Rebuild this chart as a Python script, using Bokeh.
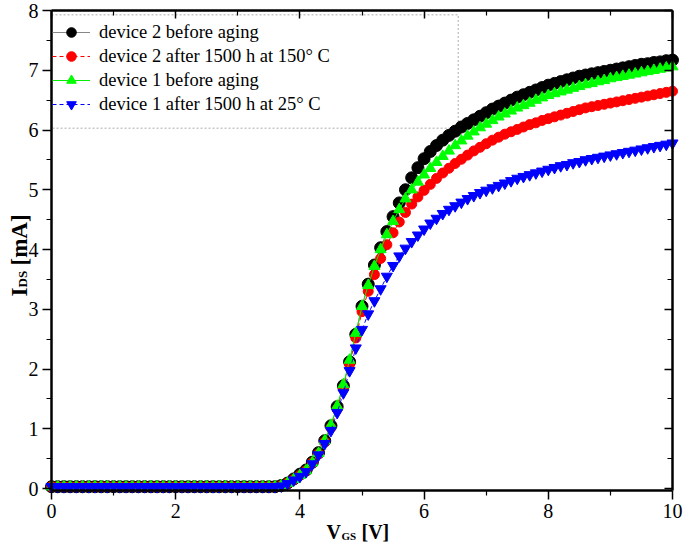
from bokeh.plotting import figure
from bokeh.models import (Range1d, LinearAxis, Legend, LegendItem, Label,
                          BoxAnnotation, FixedTicker)
from bokeh.embed import file_html
from bokeh.resources import INLINE
import math

# ---------------- data ----------------
vgs = [round(0.1 * i, 1) for i in range(101)]

dev2_before = [
    0.03, 0.03, 0.03, 0.03, 0.03, 0.03, 0.03, 0.03, 0.03, 0.03,
    0.03, 0.03, 0.03, 0.03, 0.03, 0.03, 0.03, 0.03, 0.03, 0.03,
    0.03, 0.03, 0.03, 0.03, 0.03, 0.03, 0.03, 0.03, 0.03, 0.03,
    0.03, 0.03, 0.03, 0.03, 0.03, 0.03,
    0.03, 0.05, 0.09, 0.16, 0.24, 0.31, 0.44, 0.60, 0.80, 1.05,
    1.37, 1.72, 2.12, 2.58, 3.05, 3.42, 3.74, 4.03, 4.30, 4.55,
    4.78, 5.00, 5.20, 5.37, 5.52, 5.64, 5.74, 5.83, 5.91, 5.98,
    6.05, 6.11, 6.17, 6.23, 6.29, 6.35, 6.40, 6.45, 6.50, 6.55,
    6.59, 6.63, 6.67, 6.71, 6.75, 6.78, 6.81, 6.84, 6.87, 6.90,
    6.92, 6.94, 6.96, 6.98, 7.00, 7.02, 7.04, 7.06, 7.08, 7.10,
    7.11, 7.13, 7.14, 7.16, 7.17,
]

dev2_after = [
    0.03, 0.03, 0.03, 0.03, 0.03, 0.03, 0.03, 0.03, 0.03, 0.03,
    0.03, 0.03, 0.03, 0.03, 0.03, 0.03, 0.03, 0.03, 0.03, 0.03,
    0.03, 0.03, 0.03, 0.03, 0.03, 0.03, 0.03, 0.03, 0.03, 0.03,
    0.03, 0.03, 0.03, 0.03, 0.03, 0.03,
    0.03, 0.05, 0.09, 0.15, 0.22, 0.30, 0.43, 0.58, 0.78, 1.02,
    1.33, 1.68, 2.08, 2.52, 2.96, 3.30, 3.58, 3.85, 4.08, 4.28,
    4.46, 4.62, 4.76, 4.88, 4.99, 5.09, 5.19, 5.28, 5.36, 5.44,
    5.51, 5.58, 5.65, 5.71, 5.77, 5.83, 5.88, 5.93, 5.97, 6.01,
    6.05, 6.09, 6.12, 6.16, 6.19, 6.22, 6.25, 6.28, 6.31, 6.34,
    6.37, 6.39, 6.41, 6.43, 6.45, 6.47, 6.49, 6.51, 6.53, 6.55,
    6.57, 6.59, 6.61, 6.63, 6.65,
]

dev1_before = [
    0.03, 0.03, 0.03, 0.03, 0.03, 0.03, 0.03, 0.03, 0.03, 0.03,
    0.03, 0.03, 0.03, 0.03, 0.03, 0.03, 0.03, 0.03, 0.03, 0.03,
    0.03, 0.03, 0.03, 0.03, 0.03, 0.03, 0.03, 0.03, 0.03, 0.03,
    0.03, 0.03, 0.03, 0.03, 0.03, 0.03,
    0.03, 0.05, 0.09, 0.15, 0.22, 0.30, 0.43, 0.59, 0.80, 1.06,
    1.38, 1.74, 2.15, 2.60, 3.05, 3.40, 3.72, 4.00, 4.25, 4.47,
    4.67, 4.85, 5.00, 5.13, 5.25, 5.36, 5.46, 5.56, 5.65, 5.74,
    5.82, 5.90, 5.97, 6.04, 6.10, 6.16, 6.22, 6.27, 6.32, 6.37,
    6.41, 6.45, 6.50, 6.54, 6.58, 6.61, 6.64, 6.67, 6.70, 6.73,
    6.76, 6.78, 6.81, 6.83, 6.86, 6.88, 6.90, 6.92, 6.94, 6.96,
    6.98, 7.00, 7.02, 7.04, 7.06,
]

dev1_after = [
    0.03, 0.03, 0.03, 0.03, 0.03, 0.03, 0.03, 0.03, 0.03, 0.03,
    0.03, 0.03, 0.03, 0.03, 0.03, 0.03, 0.03, 0.03, 0.03, 0.03,
    0.03, 0.03, 0.03, 0.03, 0.03, 0.03, 0.03, 0.03, 0.03, 0.03,
    0.03, 0.03, 0.03, 0.03, 0.03, 0.03,
    0.03, 0.04, 0.08, 0.14, 0.20, 0.28, 0.41, 0.56, 0.75, 0.97,
    1.27, 1.60, 1.97, 2.35, 2.66, 2.92, 3.14, 3.34, 3.55, 3.73,
    3.89, 4.02, 4.13, 4.24, 4.34, 4.44, 4.52, 4.60, 4.67, 4.73,
    4.79, 4.85, 4.90, 4.95, 4.99, 5.03, 5.07, 5.11, 5.15, 5.19,
    5.22, 5.25, 5.28, 5.31, 5.34, 5.37, 5.40, 5.42, 5.45, 5.47,
    5.50, 5.52, 5.54, 5.56, 5.58, 5.60, 5.62, 5.64, 5.66, 5.68,
    5.70, 5.72, 5.74, 5.76, 5.78,
]

labels = [
    "device 2 before aging",
    "device 2 after 1500 h at 150\u00b0 C",
    "device 1 before aging",
    "device 1 after 1500 h at 25\u00b0 C",
]
x_ticks = [0, 2, 4, 6, 8, 10]
x_minor = [1, 3, 5, 7, 9]
y_ticks = [0, 1, 2, 3, 4, 5, 6, 7, 8]
y_minor = [0.5, 1.5, 2.5, 3.5, 4.5, 5.5, 6.5, 7.5]

SERIF = "Liberation Serif"

# ---------------- layout (pixels) ----------------
W, H = 685, 544
PL, PR = 51, 672      # pixel x of V=0 and V=10
PY0, PY8 = 488, 10    # pixel y of I=0 and I=8
YBOT = -0.04          # bottom axis position
xs = (PR - PL) / 10.0
ys = (PY0 - PY8) / 8.0
x_start = -PL / xs
x_end = 10 + (W - PR) / xs
y_end = 8 + PY8 / ys
y_start = -(H - PY0) / ys

p = figure(width=W, height=H, output_backend="svg", toolbar_location=None,
           x_range=Range1d(x_start, x_end), y_range=Range1d(y_start, y_end),
           x_axis_location=None, y_axis_location=None,
           min_border=0, min_border_left=0, min_border_right=0,
           min_border_top=0, min_border_bottom=0)
p.grid.visible = False
p.outline_line_color = None
p.background_fill_color = "white"
p.border_fill_color = "white"


def make_axis(ticks, minor, loc, bounds, labelled, inward):
    ax = LinearAxis(ticker=FixedTicker(ticks=ticks, minor_ticks=minor),
                    fixed_location=loc, bounds=bounds)
    ax.axis_line_width = 2.5
    ax.axis_line_color = "black"
    ax.major_tick_line_width = 1.5
    ax.minor_tick_line_width = 1.2
    if inward:
        ax.major_tick_in, ax.major_tick_out = 8, 0
        ax.minor_tick_in, ax.minor_tick_out = 5, 0
    else:
        ax.major_tick_in, ax.major_tick_out = 0, 9
        ax.minor_tick_in, ax.minor_tick_out = 0, 5
    if labelled:
        ax.major_label_text_font = SERIF
        ax.major_label_text_font_size = "20px"
        ax.major_label_text_color = "black"
        ax.major_label_standoff = 4
    else:
        ax.major_label_text_color = None
        ax.major_label_standoff = 0
    return ax


p.add_layout(make_axis(x_ticks, x_minor, YBOT, (0, 10), True, False), "below")
p.add_layout(make_axis(y_ticks, y_minor, 0, (YBOT, 8), True, False), "left")
p.add_layout(make_axis(x_ticks, x_minor, 8, (0, 10), False, True), "above")
p.add_layout(make_axis(y_ticks, y_minor, 10, (YBOT, 8), False, True), "right")

# legend frame (dotted)
box = BoxAnnotation(left=0, right=6.55, bottom=6.03, top=7.93,
                    fill_color="white", fill_alpha=1.0,
                    line_color="#444444", line_width=1.5, line_dash="2 2",
                    level="underlay")
p.add_layout(box)

# ---------------- series ----------------
l1 = p.line(vgs, dev2_before, line_color="#888888", line_width=1)
s1 = p.scatter(vgs, dev2_before, marker="circle", size=12,
               fill_color="black", line_color="black")
l2 = p.line(vgs, dev2_after, line_color="red", line_width=1, line_dash="4 3")
s2 = p.scatter(vgs, dev2_after, marker="circle", size=10,
               fill_color="red", line_color="red")
l3 = p.line(vgs, dev1_before, line_color="#00ee00", line_width=1)
s3 = p.scatter(vgs, dev1_before, marker="triangle", size=11,
               fill_color="#00ff00", line_color="#00ff00")
l4 = p.line(vgs, dev1_after, line_color="blue", line_width=1, line_dash="4 3")
s4 = p.scatter(vgs, dev1_after, marker="inverted_triangle", size=11,
               fill_color="blue", line_color="blue")

legend = Legend(items=[
    LegendItem(label=labels[0], renderers=[l1, s1]),
    LegendItem(label=labels[1], renderers=[l2, s2]),
    LegendItem(label=labels[2], renderers=[l3, s3]),
    LegendItem(label=labels[3], renderers=[l4, s4]),
], location=(PL, H - 117))
legend.margin = 0
legend.padding = 1
legend.spacing = 0
legend.glyph_width = 38
legend.glyph_height = 24
legend.label_height = 24
legend.label_standoff = 9
legend.label_text_font = SERIF
legend.label_text_font_size = "18.5px"
legend.label_text_color = "black"
legend.background_fill_alpha = 0
legend.border_line_alpha = 0
p.add_layout(legend)


# ---------------- axis titles (with subscripts) ----------------
def lab(text, x, y, size, angle=0.0):
    p.add_layout(Label(x=x, y=y, x_units="screen", y_units="screen",
                       text=text, text_font=SERIF, text_font_size=size,
                       text_font_style="bold", text_color="black",
                       text_align="left", text_baseline="alphabetic",
                       angle=angle))


# x title: V_GS [V]   (screen units: x from left, y from bottom)
lab("V", 326, H - 531, "20px")
lab("GS", 341, H - 535, "11px")
lab("[V]", 361, H - 531, "20px")

# y title: I_DS [mA] (rotated, reading upward)
ang = math.pi / 2
lab("I", 19, H - 296, "23px", ang)
lab("DS", 22, H - 287, "13px", ang)
lab("[mA]", 19, H - 265, "23px", ang)

open("out.html", "w").write(file_html(p, INLINE))
